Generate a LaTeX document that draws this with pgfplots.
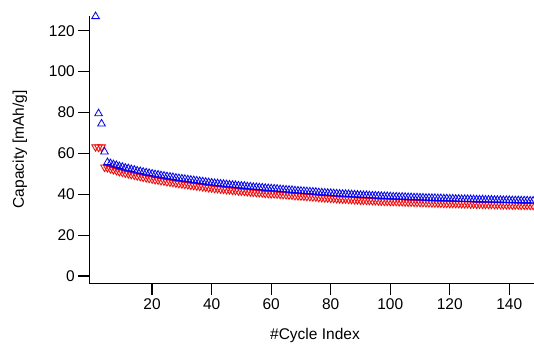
\documentclass[border=0pt]{standalone}
\usepackage{pgfplots}
\pgfplotsset{compat=1.18}
\usepackage{fontspec}
\setmainfont{Liberation Sans}
\definecolor{igblue}{RGB}{0,0,255}
\definecolor{igred}{RGB}{255,0,0}
\begin{document}
\begin{tikzpicture}
\begin{axis}[
  scale only axis,
  width=444.7pt, height=267.7pt,
  xmin=-1.1, xmax=148.3,
  ymin=-3.7, ymax=127.2,
  axis x line*=bottom, axis y line*=left,
  axis line style={line width=1.3pt, black},
  every tick/.style={line width=1.3pt, black},
  tick align=outside,
  major tick length=11pt,
  xtick={20,40,60,80,100,120,140},
  ytick={0,20,40,60,80,100,120},
  minor tick num=0,
  clip=false,
  /pgf/number format/assume math mode=true,
  tick label style={font=\fontsize{15.5}{18}\selectfont},
  xlabel={\#Cycle Index},
  ylabel={Capacity [mAh/g]},
  every axis x label/.style={at={(axis description cs:0.5075,0)}, anchor=base, yshift=-55.6pt, font=\fontsize{15.5}{18}\selectfont},
  every axis y label/.style={at={(axis description cs:0,0.5024)}, anchor=base, xshift=-65.3pt, rotate=90, font=\fontsize{15.5}{18}\selectfont},
]
\addplot[only marks, mark=triangle, mark size=4.4pt, mark options={rotate=180, line width=0.8pt, draw=igred, fill=none}, igred] table[row sep=\\] {
x y\\
1 63.2\\ 2 63.0\\ 3 63.1\\ 4 53.3\\
5 53.0\\ 6 52.5\\ 7 52.0\\ 8 51.6\\ 9 51.1\\ 10 50.8\\ 11 50.4\\ 12 50.1\\ 13 49.7\\ 14 49.4\\ 15 49.0\\
16 48.7\\ 17 48.4\\ 18 48.1\\ 19 47.8\\ 20 47.5\\ 21 47.2\\ 22 47.0\\ 23 46.7\\ 24 46.5\\ 25 46.2\\
26 46.0\\ 27 45.8\\ 28 45.5\\ 29 45.3\\ 30 45.1\\ 31 44.9\\ 32 44.7\\ 33 44.5\\ 34 44.3\\ 35 44.1\\
36 43.9\\ 37 43.7\\ 38 43.5\\ 39 43.3\\ 40 43.1\\ 41 42.9\\ 42 42.8\\ 43 42.6\\ 44 42.5\\ 45 42.3\\
46 42.2\\ 47 42.0\\ 48 41.9\\ 49 41.7\\ 50 41.6\\ 51 41.5\\ 52 41.3\\ 53 41.2\\ 54 41.0\\ 55 40.9\\
56 40.8\\ 57 40.7\\ 58 40.5\\ 59 40.4\\ 60 40.3\\ 61 40.3\\ 62 40.2\\ 63 40.0\\ 64 39.9\\ 65 39.8\\
66 39.7\\ 67 39.6\\ 68 39.4\\ 69 39.3\\ 70 39.2\\ 71 39.1\\ 72 39.0\\ 73 38.9\\ 74 38.8\\ 75 38.7\\
76 38.5\\ 77 38.4\\ 78 38.3\\ 79 38.2\\ 80 38.1\\ 81 38.0\\ 82 37.9\\ 83 37.8\\ 84 37.7\\ 85 37.7\\
86 37.6\\ 87 37.5\\ 88 37.4\\ 89 37.3\\ 90 37.2\\ 91 37.1\\ 92 37.1\\ 93 37.0\\ 94 36.9\\ 95 36.9\\
96 36.8\\ 97 36.7\\ 98 36.6\\ 99 36.6\\ 100 36.5\\ 101 36.5\\ 102 36.5\\ 103 36.4\\ 104 36.4\\ 105 36.3\\
106 36.2\\ 107 36.2\\ 108 36.1\\ 109 36.1\\ 110 36.0\\ 111 36.0\\ 112 35.9\\ 113 35.9\\ 114 35.8\\ 115 35.8\\
116 35.7\\ 117 35.7\\ 118 35.6\\ 119 35.6\\ 120 35.5\\ 121 35.6\\ 122 35.5\\ 123 35.5\\ 124 35.4\\ 125 35.4\\
126 35.4\\ 127 35.3\\ 128 35.3\\ 129 35.2\\ 130 35.2\\ 131 35.2\\ 132 35.1\\ 133 35.1\\ 134 35.1\\ 135 35.0\\
136 35.0\\ 137 35.0\\ 138 34.9\\ 139 34.9\\ 140 34.9\\ 141 34.8\\ 142 34.8\\ 143 34.8\\ 144 34.7\\ 145 34.7\\
146 34.7\\ 147 34.6\\ 148 34.6\\
};
\addplot[only marks, mark=triangle, mark size=4.4pt, mark options={line width=0.8pt, draw=igblue, fill=none}, igblue] table[row sep=\\] {
x y\\
1 127.0\\ 2 79.5\\ 3 74.5\\ 4 60.8\\
5 55.6\\ 6 55.1\\ 7 54.6\\ 8 54.2\\ 9 53.7\\ 10 53.3\\ 11 52.9\\ 12 52.6\\ 13 52.2\\ 14 51.9\\ 15 51.5\\
16 51.2\\ 17 50.9\\ 18 50.6\\ 19 50.3\\ 20 50.0\\ 21 49.7\\ 22 49.5\\ 23 49.2\\ 24 49.0\\ 25 48.7\\
26 48.5\\ 27 48.3\\ 28 48.0\\ 29 47.8\\ 30 47.6\\ 31 47.4\\ 32 47.2\\ 33 47.0\\ 34 46.8\\ 35 46.6\\
36 46.4\\ 37 46.2\\ 38 46.0\\ 39 45.8\\ 40 45.6\\ 41 45.4\\ 42 45.3\\ 43 45.1\\ 44 45.0\\ 45 44.8\\
46 44.7\\ 47 44.5\\ 48 44.4\\ 49 44.2\\ 50 44.1\\ 51 44.0\\ 52 43.8\\ 53 43.7\\ 54 43.5\\ 55 43.4\\
56 43.3\\ 57 43.2\\ 58 43.0\\ 59 42.9\\ 60 42.8\\ 61 42.7\\ 62 42.6\\ 63 42.4\\ 64 42.3\\ 65 42.2\\
66 42.1\\ 67 42.0\\ 68 41.8\\ 69 41.7\\ 70 41.6\\ 71 41.5\\ 72 41.4\\ 73 41.3\\ 74 41.2\\ 75 41.1\\
76 40.9\\ 77 40.8\\ 78 40.7\\ 79 40.6\\ 80 40.5\\ 81 40.4\\ 82 40.3\\ 83 40.2\\ 84 40.1\\ 85 40.1\\
86 40.0\\ 87 39.9\\ 88 39.8\\ 89 39.7\\ 90 39.6\\ 91 39.5\\ 92 39.5\\ 93 39.4\\ 94 39.3\\ 95 39.3\\
96 39.2\\ 97 39.1\\ 98 39.0\\ 99 39.0\\ 100 38.9\\ 101 38.8\\ 102 38.8\\ 103 38.7\\ 104 38.7\\ 105 38.6\\
106 38.5\\ 107 38.5\\ 108 38.4\\ 109 38.4\\ 110 38.3\\ 111 38.3\\ 112 38.2\\ 113 38.2\\ 114 38.1\\ 115 38.1\\
116 38.0\\ 117 38.0\\ 118 37.9\\ 119 37.9\\ 120 37.8\\ 121 37.8\\ 122 37.7\\ 123 37.7\\ 124 37.6\\ 125 37.6\\
126 37.6\\ 127 37.5\\ 128 37.5\\ 129 37.4\\ 130 37.4\\ 131 37.4\\ 132 37.3\\ 133 37.3\\ 134 37.3\\ 135 37.2\\
136 37.2\\ 137 37.2\\ 138 37.1\\ 139 37.1\\ 140 37.1\\ 141 37.0\\ 142 37.0\\ 143 37.0\\ 144 36.9\\ 145 36.9\\
146 36.9\\ 147 36.8\\ 148 36.8\\
};
\end{axis}
\pgfresetboundingbox
\useasboundingbox (-89.3pt,-59.3pt) rectangle (444.7pt,283.7pt);
\end{tikzpicture}
\end{document}
